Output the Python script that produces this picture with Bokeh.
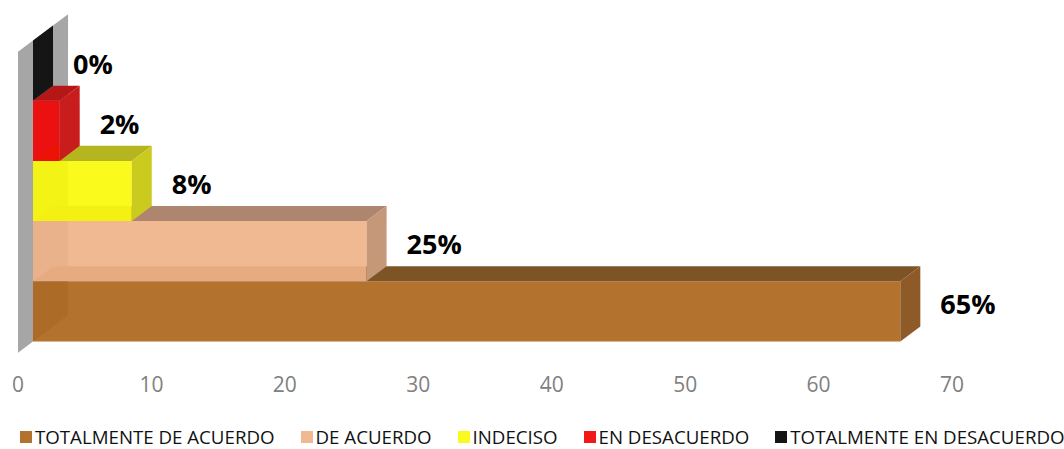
from bokeh.plotting import figure
from bokeh.layouts import column
from bokeh.models import Range1d, FixedTicker, Legend, LegendItem
from bokeh.core.properties import value
from bokeh.embed import file_html
from bokeh.resources import INLINE

# ---- data ----
categories = ["TOTALMENTE DE ACUERDO", "DE ACUERDO", "INDECISO",
              "EN DESACUERDO", "TOTALMENTE EN DESACUERDO"]
values = [65, 25, 7.4, 2, 0]
value_labels = ["65%", "25%", "8%", "2%", "0%"]
ticks = [0, 10, 20, 30, 40, 50, 60, 70]

# ---- style ----
key_colors = ["#B3722E", "#F1B992", "#FAFA1E", "#F21818", "#151515"]
front_colors = ["#AC661C", "#F0B389", "#FAFA0A", "#F10404", "#010101"]
top_colors = ["#7E5427", "#AE8670", "#B5B520", "#B51717", "#151515"]
side_colors = ["#8E5A28", "#C49878", "#CBCB1F", "#C91C1C", "#151515"]
wall_color = "#A6A6A6"
FONT = "Open Sans"

# oblique projection of a 3D point (value, category position, depth)
DX = 1.5    # x units per bar depth
DY = 0.25   # y units per bar depth
D0 = 0.75   # depth from chart front to bar front


def proj(pts):
    xs = [x + (d + D0) * DX for x, y, d in pts]
    ys = [y + d * DY for x, y, d in pts]
    return xs, ys


p = figure(width=1064, height=404, output_backend="svg", toolbar_location=None,
           x_range=Range1d(-1.3116, 78.43), y_range=Range1d(-0.2159, 5.6645),
           y_axis_location=None, min_border=0, min_border_bottom=50)
p.outline_line_color = None
p.grid.visible = False

# legend strip below the chart
p2 = figure(width=1064, height=45, output_backend="svg", toolbar_location=None,
            x_range=Range1d(0, 1), y_range=Range1d(0, 1),
            x_axis_location=None, y_axis_location=None, min_border=0)
p2.outline_line_color = None
p2.grid.visible = False

# side wall
n = len(values)
wx, wy = proj([(0, 0, -D0), (0, n, -D0), (0, n, 1 + D0), (0, 0, 1 + D0)])
p.patch(wx, wy, fill_color=wall_color, line_color=None)

legend_items = []
for i, v in enumerate(values):
    y0, y1 = i, i + 1
    fx, fy = proj([(0, y0, 0), (v, y0, 0), (v, y1, 0), (0, y1, 0)])
    tx, ty = proj([(0, y1, 0), (v, y1, 0), (v, y1, 1), (0, y1, 1)])
    sx, sy = proj([(v, y0, 0), (v, y0, 1), (v, y1, 1), (v, y1, 0)])
    p.patch(fx, fy, fill_color=front_colors[i], fill_alpha=0.92, line_color=None)
    p.patch(tx, ty, fill_color=top_colors[i], line_color=None)
    p.patch(sx, sy, fill_color=side_colors[i], line_color=None)
    # same face in the legend strip (outside its visible range) for the key
    rl = p2.patch(fx, fy, fill_color=key_colors[i], line_color=None)
    legend_items.append(LegendItem(label=categories[i], renderers=[rl]))

# value labels (at mid depth of each bar)
label_y = [i + 0.5 + 0.5 * DY for i in range(n)]
p.text(x=values, y=label_y, text=value_labels, x_offset=55,
       text_align="left", text_baseline="middle",
       text_font=value(FONT), text_font_style="bold", text_font_size="27px",
       text_color="black")

# x axis
ax = p.xaxis[0]
ax.ticker = FixedTicker(ticks=ticks)
ax.axis_line_color = None
ax.major_tick_line_color = None
ax.minor_tick_line_color = None
ax.major_label_text_font = FONT
ax.major_label_text_font_size = "21px"
ax.major_label_text_color = "#808080"
ax.major_label_standoff = 15

legend = Legend(items=legend_items, orientation="horizontal", location=(18, 0),
                glyph_width=15, glyph_height=15, label_standoff=2, spacing=24,
                label_text_font=FONT, label_text_font_size="18.7px",
                label_text_color="#111111", padding=0, margin=0,
                border_line_color=None, background_fill_alpha=0)
p2.add_layout(legend, "center")

layout = column(p, p2, spacing=0)
open("out.html", "w").write(file_html(layout, INLINE))
